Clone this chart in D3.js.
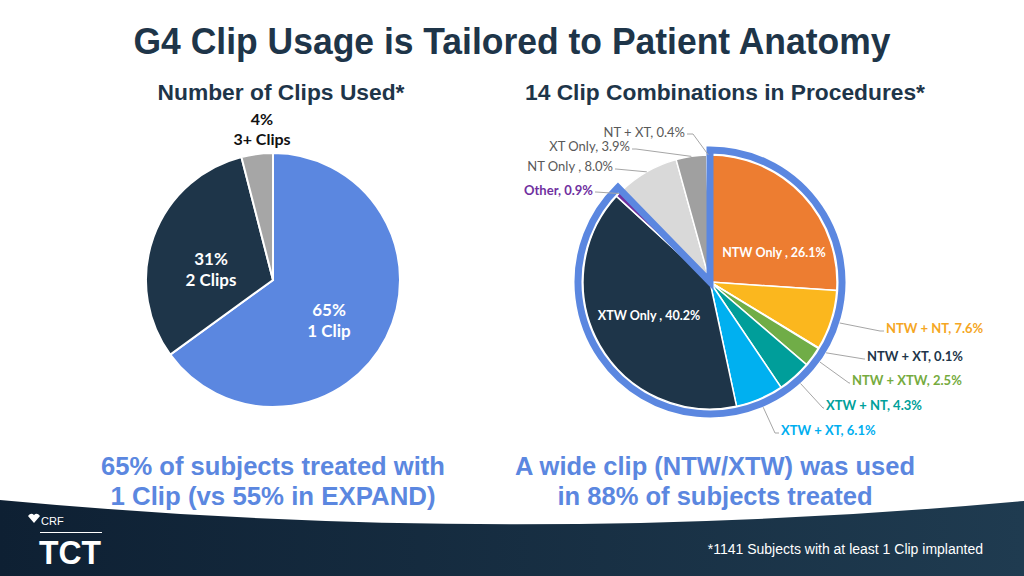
<!DOCTYPE html>
<html>
<head>
<meta charset="utf-8">
<script src="https://cdn.jsdelivr.net/npm/d3@7"></script>
<style>
  body { margin: 0; background: #fff; }
  svg { display: block; }
</style>
</head>
<body>
<svg id="chart"></svg>
<script>
// data
const clipCounts = ["1 Clip", "2 Clips", "3+ Clips"]
const clipShares = [65, 31, 4]
const combos = ["NTW Only", "NTW + NT", "NTW + XT", "NTW + XTW", "XTW + NT", "XTW + XT", "XTW Only", "Other", "NT Only", "XT Only", "NT + XT"]
const comboShares = [26.1, 7.6, 0.1, 2.5, 4.3, 6.1, 40.2, 0.9, 8.0, 3.9, 0.4]
const wideClipGroups = ["NTW Only", "NTW + NT", "NTW + XT", "NTW + XTW", "XTW + NT", "XTW + XT", "XTW Only", "Other"]

const W = 1024, H = 576
const navy = "#1e3549"
const blue = "#5b87e0"
const calibri = "Lato, 'Open Sans', sans-serif"
const arial = "'Liberation Sans', Arial, sans-serif"

const svg = d3.select("#chart").attr("width", W).attr("height", H)

//Bottom band
const grad = svg.append("defs").append("linearGradient").attr("id", "band")
grad.append("stop").attr("offset", "0%").attr("stop-color", "#0e2033")
grad.append("stop").attr("offset", "100%").attr("stop-color", "#1f3b50")
svg.append("path")
    .attr("d", "M0,500 Q512,548 1024,501 L1024,576 L0,576 Z")
    .attr("fill", "url(#band)")

//Titles
const heading = (x, y, size, len, txt) => svg.append("text")
    .attr("x", x).attr("y", y).attr("text-anchor", "middle")
    .attr("font-family", arial).attr("font-weight", "bold").attr("font-size", size)
    .attr("fill", navy).attr("textLength", len).attr("lengthAdjust", "spacingAndGlyphs")
    .text(txt)
heading(512, 54, 36, 757, "G4 Clip Usage is Tailored to Patient Anatomy")
heading(281, 100, 22, 247, "Number of Clips Used*")
heading(725, 100, 22, 400, "14 Clip Combinations in Procedures*")

//Left pie
const r = 127
const pie = d3.pie().sort(null).value(d => d.v)
const arc = d3.arc().innerRadius(0).outerRadius(r)
const leftData = pie(clipCounts.map((c, i) => ({ name: c, v: clipShares[i] })))
const leftColors = d3.scaleOrdinal(clipCounts, [blue, navy, "#a6a6a6"])
const gl = svg.append("g").attr("transform", "translate(273,280)")
gl.selectAll("path").data(leftData).join("path")
    .attr("d", arc)
    .attr("fill", d => leftColors(d.data.name))
    .attr("stroke", "white").attr("stroke-width", 2)

const leftLabelPos = { "1 Clip": [56, 36, 21, 17], "2 Clips": [-62, -15, 21, 17], "3+ Clips": [-11, -155, 20, 16] }
leftData.forEach(d => {
    const p = leftLabelPos[d.data.name]
    const outside = d.data.name == "3+ Clips"
    const t = gl.append("text").attr("text-anchor", "middle")
        .attr("font-family", calibri).attr("font-weight", "bold").attr("font-size", p[3])
        .attr("fill", outside ? "#111" : "white")
    t.append("tspan").attr("x", p[0]).attr("y", p[1]).text(d.data.v + "%")
    t.append("tspan").attr("x", p[0]).attr("y", p[1] + p[2]).text(d.data.name)
})

//Right pie
const comboColors = d3.scaleOrdinal(combos, ["#ed7d31", "#fbb71e", navy, "#70ad47", "#009e9a", "#00b0f0", navy, "#7030a0", "#d9d9d9", "#a0a0a0", "#595959"])
const labelColors = d3.scaleOrdinal(combos, ["white", "#f5a623", navy, "#76ab3e", "#00a09a", "#00aeef", "white", "#7030a0", "#595959", "#595959", "#595959"])
const rightData = pie(combos.map((c, i) => ({ name: c, v: comboShares[i] })))
const cx = 710, cy = 282
const gr = svg.append("g").attr("transform", `translate(${cx},${cy})`)
gr.selectAll("path").data(rightData).join("path")
    .attr("d", arc)
    .attr("fill", d => comboColors(d.data.name))
    .attr("stroke", "white").attr("stroke-width", 1.5)

// outline of wide clip slices
const wide = rightData.filter(d => wideClipGroups.includes(d.data.name))
gr.append("path")
    .attr("d", d3.arc().innerRadius(0).outerRadius(r + 5)({
        startAngle: wide[0].startAngle,
        endAngle: wide[wide.length - 1].endAngle
    }))
    .attr("fill", "none").attr("stroke", blue).attr("stroke-width", 7)
    .attr("stroke-linejoin", "miter")

// label layout: text anchor [x, y] relative to centre, elbow point, anchor side
const labelLayout = {
    "NTW Only": { at: [64, -29], inside: true },
    "XTW Only": { at: [-61, 34], inside: true },
    "NTW + NT": { at: [176, 46], elbow: [170, 49], side: "start", rr: r + 9 },
    "NTW + XT": { at: [157, 74], elbow: [154, 77], side: "start", rr: r + 9 },
    "NTW + XTW": { at: [142, 98], elbow: [139, 101], side: "start", rr: r + 9 },
    "XTW + NT": { at: [116, 123], elbow: [113, 126], side: "start", rr: r + 9 },
    "XTW + XT": { at: [71, 148], elbow: [65, 151], side: "start", rr: r + 9 },
    "Other": { at: [-117, -92], elbow: [-114, -90], side: "end", rr: r },
    "NT Only": { at: [-97, -116], elbow: [-94, -113], side: "end", rr: r },
    "XT Only": { at: [-80, -136], elbow: [-74, -133], side: "end", rr: r },
    "NT + XT": { at: [-25, -150], elbow: [-17, -148], side: "end", rr: r }
}
const labelText = d => {
    const sep = ["NTW Only", "XTW Only", "NT Only"].includes(d.data.name) ? " , " : ", "
    return d.data.name + sep + d3.format(".1f")(d.data.v) + "%"
}
rightData.forEach(d => {
    const L = labelLayout[d.data.name]
    const bold = !["NT Only", "XT Only", "NT + XT"].includes(d.data.name)
    if (!L.inside) {
        const a = (d.startAngle + d.endAngle) / 2
        const p0 = [L.rr * Math.sin(a), -L.rr * Math.cos(a)]
        const p2 = [L.at[0] + (L.side == "start" ? -2 : 2), L.elbow[1]]
        gr.append("path")
            .attr("d", d3.line()([p0, L.elbow, p2]))
            .attr("fill", "none").attr("stroke", "#a6a6a6").attr("stroke-width", 1)
    }
    gr.append("text")
        .attr("x", L.at[0])
        .attr("y", L.at[1]).attr("dy", "0.35em")
        .attr("text-anchor", L.inside ? "middle" : L.side)
        .attr("font-family", calibri).attr("font-weight", bold ? "bold" : "normal")
        .attr("font-size", L.inside ? 12.5 : 13).attr("fill", labelColors(d.data.name))
        .text(labelText(d))
})

//Takeaways
const takeaway = (x, lines, lens) => {
    const t = svg.append("text").attr("text-anchor", "middle")
        .attr("font-family", arial).attr("font-weight", "bold").attr("font-size", 26)
        .attr("fill", blue)
    lines.forEach((l, i) => t.append("tspan").attr("x", x).attr("y", 475 + i * 30)
        .attr("textLength", lens[i]).attr("lengthAdjust", "spacingAndGlyphs").text(l))
}
takeaway(273, ["65% of subjects treated with", "1 Clip (vs 55% in EXPAND)"], [344, 325])
takeaway(715, ["A wide clip (NTW/XTW) was used", "in 88% of subjects treated"], [400, 315])

//Footnote
svg.append("text").attr("x", 983).attr("y", 554).attr("text-anchor", "end")
    .attr("font-family", arial).attr("font-size", 14).attr("fill", "white")
    .text("*1141 Subjects with at least 1 Clip implanted")

//Logo
const logo = svg.append("g").attr("fill", "white")
logo.append("path").attr("d", "M28,516 q3,-4 6,-1 q3,-3 6,1 l-6,7 z")
logo.append("text").attr("x", 41).attr("y", 525).attr("font-family", arial)
    .attr("font-size", 11).text("CRF")
logo.append("rect").attr("x", 40).attr("y", 532).attr("width", 62).attr("height", 1)
logo.append("text").attr("x", 39).attr("y", 564).attr("font-family", arial)
    .attr("font-weight", "bold").attr("font-size", 34)
    .attr("textLength", 62).attr("lengthAdjust", "spacingAndGlyphs").text("TCT")
</script>
</body>
</html>
